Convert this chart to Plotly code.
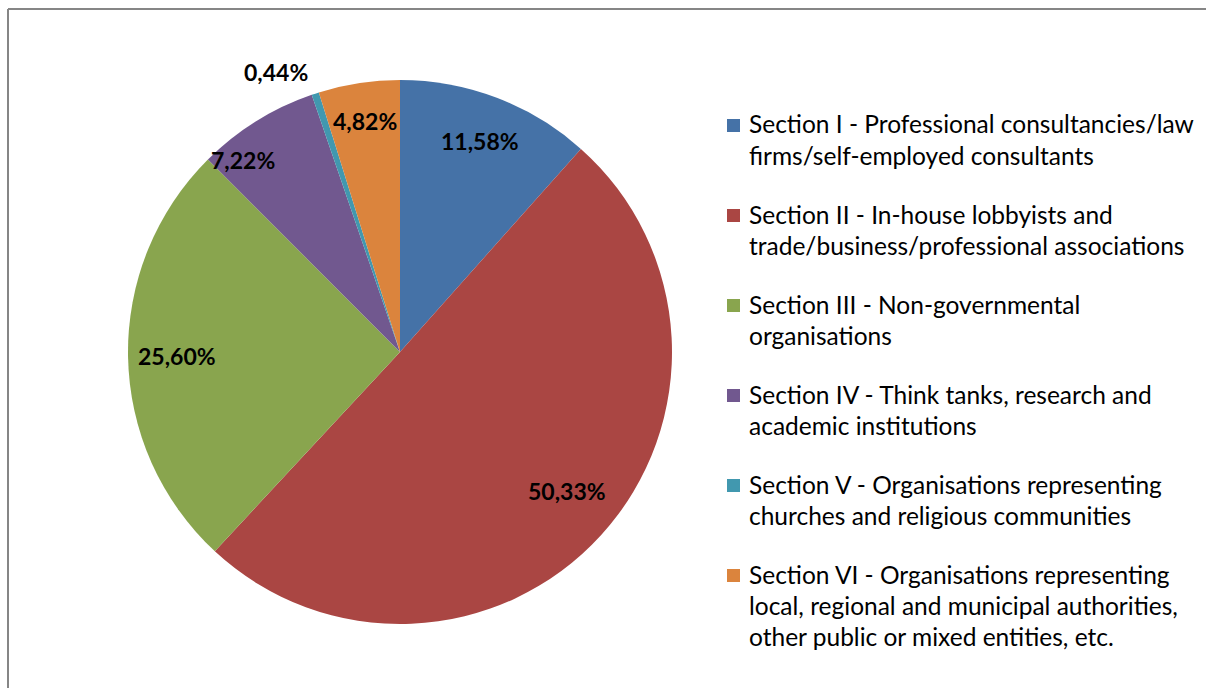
import math
import plotly.graph_objects as go

W, H = 1206, 688

categories = [
    "Section I - Professional consultancies/law<br>firms/self-employed consultants",
    "Section II - In-house lobbyists and<br>trade/business/professional associations",
    "Section III - Non-governmental<br>organisations",
    "Section IV - Think tanks, research and<br>academic institutions",
    "Section V - Organisations representing<br>churches and religious communities",
    "Section VI - Organisations representing<br>local, regional and municipal authorities,<br>other public or mixed entities, etc.",
]
values = [11.58, 50.33, 25.60, 7.22, 0.44, 4.82]
colors = ["#4572A7", "#AA4643", "#89A54E", "#71588F", "#4198AF", "#DB843D"]
# label placement styles (radius fraction, angular nudge in degrees)
label_radius = [0.83, 0.80, 0.82, 0.91, 1.125, 0.86]
label_nudge = [0.0, -2.5, 0.0, -7.3, -5.8, 0.0]

FONT = "Lato"

# pie geometry in pixels
cx, cy, R = 400, 352, 272

def px(x):
    return x / W

def py(y):
    return 1 - y / H

fig = go.Figure()
fig.add_trace(go.Pie(
    labels=categories,
    values=values,
    sort=False,
    direction="clockwise",
    rotation=0,
    marker=dict(colors=colors, line=dict(width=0)),
    textinfo="none",
    hoverinfo="label+percent",
    showlegend=False,
    domain=dict(x=[px(cx - R), px(cx + R)], y=[py(cy + R), py(cy - R)]),
))

annotations = []
shapes = []

# data labels computed from cumulative values
total = sum(values)
cum = 0
for v, rf, nd in zip(values, label_radius, label_nudge):
    mid = (cum + v / 2) / total * 2 * math.pi + math.radians(nd)
    cum += v
    x = cx + rf * R * math.sin(mid)
    y = cy - rf * R * math.cos(mid)
    annotations.append(dict(
        x=px(x), y=py(y), xref="paper", yref="paper",
        text=f"<b>{v:.2f}%</b>".replace(".", ","),
        showarrow=False, xanchor="center", yanchor="middle",
        font=dict(family=FONT, size=23, color="#000000"),
    ))

# custom legend
leg_x_sq, leg_x_txt = 727, 747
first_line, line_gap, item_gap = 125, 31, 90
for i, (cat, col) in enumerate(zip(categories, colors)):
    base = first_line + i * item_gap
    shapes.append(dict(
        type="rect", xref="paper", yref="paper",
        x0=px(leg_x_sq), x1=px(leg_x_sq + 13), y0=py(base + 7), y1=py(base - 6),
        fillcolor=col, line=dict(width=0),
    ))
    for j, line in enumerate(cat.split("<br>")):
        annotations.append(dict(
            x=px(leg_x_txt), y=py(base + j * line_gap - 1), xref="paper", yref="paper",
            text=line, showarrow=False, xanchor="left", yanchor="middle",
            font=dict(family=FONT, size=24.5, color="#000000"),
        ))

# chart border (extends beyond right/bottom edges)
shapes.append(dict(type="line", xref="paper", yref="paper",
                   x0=px(8), x1=px(W + 20), y0=py(9), y1=py(9),
                   line=dict(color="#868686", width=2)))
shapes.append(dict(type="line", xref="paper", yref="paper",
                   x0=px(8), x1=px(8), y0=py(9), y1=py(H + 20),
                   line=dict(color="#868686", width=2)))

fig.update_layout(
    width=W, height=H,
    margin=dict(l=0, r=0, t=0, b=0),
    paper_bgcolor="white", plot_bgcolor="white",
    annotations=annotations, shapes=shapes,
    showlegend=False,
)

fig.write_html(
    "out.html",
    config={"displayModeBar": False},
    post_script="document.body.style.margin='0';document.body.style.overflow='hidden';",
)
